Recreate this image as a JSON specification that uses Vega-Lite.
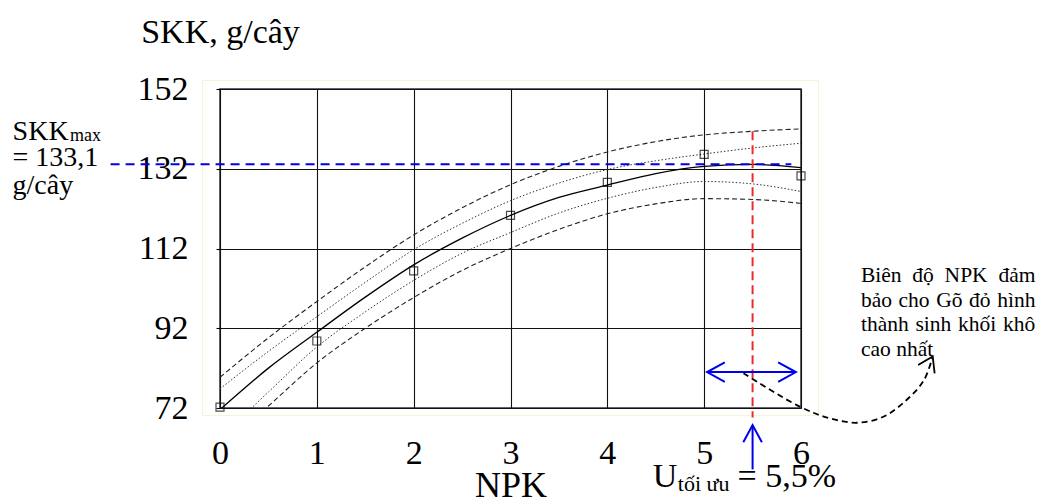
{
  "$schema": "https://vega.github.io/schema/vega-lite/v6.json",
  "width": 581,
  "height": 319,
  "autosize": {"type": "none"},
  "padding": {"left": 220, "top": 89, "right": 239, "bottom": 93},
  "background": "white",
  "config": {
    "font": "Liberation Serif, Times New Roman, serif",
    "text": {"font": "Liberation Serif, Times New Roman, serif"},
    "view": {"stroke": "#333333", "strokeWidth": 1.5},
    "axis": {
      "labelFont": "Liberation Serif, Times New Roman, serif",
      "titleFont": "Liberation Serif, Times New Roman, serif",
      "labelColor": "black",
      "titleColor": "black",
      "titleFontWeight": "normal",
      "grid": true,
      "gridColor": "#111111",
      "gridWidth": 1.1,
      "domain": false
    }
  },
  "datasets": {
    "fit": [
      {"x": 0, "y": 71.6, "band": "fit"}, {"x": 0.5, "y": 82.0, "band": "fit"}, {"x": 1, "y": 91.0, "band": "fit"},
      {"x": 1.5, "y": 99.8, "band": "fit"}, {"x": 2, "y": 107.9, "band": "fit"}, {"x": 2.5, "y": 114.6, "band": "fit"},
      {"x": 3, "y": 120.3, "band": "fit"}, {"x": 3.5, "y": 124.8, "band": "fit"}, {"x": 4, "y": 127.9, "band": "fit"},
      {"x": 4.5, "y": 130.8, "band": "fit"}, {"x": 5, "y": 132.6, "band": "fit"}, {"x": 5.5, "y": 133.1, "band": "fit"},
      {"x": 6, "y": 132.3, "band": "fit"},
      {"x": 0, "y": 76.8, "band": "ci_hi"}, {"x": 0.5, "y": 86.2, "band": "ci_hi"}, {"x": 1, "y": 94.9, "band": "ci_hi"},
      {"x": 1.5, "y": 103.5, "band": "ci_hi"}, {"x": 2, "y": 111.7, "band": "ci_hi"}, {"x": 2.5, "y": 118.3, "band": "ci_hi"},
      {"x": 3, "y": 124.0, "band": "ci_hi"}, {"x": 3.5, "y": 128.4, "band": "ci_hi"}, {"x": 4, "y": 131.8, "band": "ci_hi"},
      {"x": 4.5, "y": 134.0, "band": "ci_hi"}, {"x": 5, "y": 135.7, "band": "ci_hi"}, {"x": 5.5, "y": 137.2, "band": "ci_hi"},
      {"x": 6, "y": 138.4, "band": "ci_hi"},
      {"x": 0, "y": 64.5, "band": "ci_lo"}, {"x": 0.5, "y": 76.0, "band": "ci_lo"}, {"x": 1, "y": 87.3, "band": "ci_lo"},
      {"x": 1.5, "y": 96.1, "band": "ci_lo"}, {"x": 2, "y": 104.0, "band": "ci_lo"}, {"x": 2.5, "y": 110.8, "band": "ci_lo"},
      {"x": 3, "y": 116.0, "band": "ci_lo"}, {"x": 3.5, "y": 120.9, "band": "ci_lo"}, {"x": 4, "y": 124.6, "band": "ci_lo"},
      {"x": 4.5, "y": 127.3, "band": "ci_lo"}, {"x": 5, "y": 128.8, "band": "ci_lo"}, {"x": 5.5, "y": 128.2, "band": "ci_lo"},
      {"x": 6, "y": 126.3, "band": "ci_lo"},
      {"x": 0, "y": 79.7, "band": "pi_hi"}, {"x": 0.5, "y": 89.6, "band": "pi_hi"}, {"x": 1, "y": 98.7, "band": "pi_hi"},
      {"x": 1.5, "y": 107.4, "band": "pi_hi"}, {"x": 2, "y": 115.4, "band": "pi_hi"}, {"x": 2.5, "y": 122.2, "band": "pi_hi"},
      {"x": 3, "y": 128.0, "band": "pi_hi"}, {"x": 3.5, "y": 132.6, "band": "pi_hi"}, {"x": 4, "y": 136.2, "band": "pi_hi"},
      {"x": 4.5, "y": 138.8, "band": "pi_hi"}, {"x": 5, "y": 140.5, "band": "pi_hi"}, {"x": 5.5, "y": 141.4, "band": "pi_hi"},
      {"x": 6, "y": 142.0, "band": "pi_hi"},
      {"x": 0, "y": 61.8, "band": "pi_lo"}, {"x": 0.5, "y": 72.5, "band": "pi_lo"}, {"x": 1, "y": 83.3, "band": "pi_lo"},
      {"x": 1.5, "y": 92.0, "band": "pi_lo"}, {"x": 2, "y": 99.7, "band": "pi_lo"}, {"x": 2.5, "y": 106.5, "band": "pi_lo"},
      {"x": 3, "y": 112.0, "band": "pi_lo"}, {"x": 3.5, "y": 116.8, "band": "pi_lo"}, {"x": 4, "y": 120.7, "band": "pi_lo"},
      {"x": 4.5, "y": 123.2, "band": "pi_lo"}, {"x": 5, "y": 124.5, "band": "pi_lo"}, {"x": 5.5, "y": 124.3, "band": "pi_lo"},
      {"x": 6, "y": 123.3, "band": "pi_lo"}
    ],
    "obs": [
      {"x": 0, "y": 72.2}, {"x": 1, "y": 88.8}, {"x": 2, "y": 106.4}, {"x": 3, "y": 120.3},
      {"x": 4, "y": 128.6}, {"x": 5, "y": 135.6}, {"x": 6, "y": 130.2}
    ],
    "frame": [{"x": -0.18, "y": 70.1, "x2": 6.18, "y2": 154.15}],
    "skkMax": [{"x": -1.13, "y": 133.1}, {"x": 5.9, "y": 133.1}],
    "uOpt": [{"x": 5.5, "y": 141.4}, {"x": 5.5, "y": 69.6}],
    "arrows": [
      {"seg": "h", "k": 0, "x": 5.03, "y": 81.0}, {"seg": "h", "k": 1, "x": 5.947, "y": 81.0},
      {"seg": "hl", "k": 0, "x": 5.213, "y": 83.46}, {"seg": "hl", "k": 1, "x": 5.03, "y": 81.0}, {"seg": "hl", "k": 2, "x": 5.213, "y": 78.54},
      {"seg": "hr", "k": 0, "x": 5.764, "y": 83.46}, {"seg": "hr", "k": 1, "x": 5.947, "y": 81.0}, {"seg": "hr", "k": 2, "x": 5.764, "y": 78.54},
      {"seg": "v", "k": 0, "x": 5.5, "y": 56.6}, {"seg": "v", "k": 1, "x": 5.5, "y": 67.73},
      {"seg": "vh", "k": 0, "x": 5.404, "y": 63.4}, {"seg": "vh", "k": 1, "x": 5.5, "y": 67.73}, {"seg": "vh", "k": 2, "x": 5.596, "y": 63.4}
    ],
    "pointer": [
      {"k": 0, "x": 5.406, "y": 80.7}, {"k": 1, "x": 5.99, "y": 72.3}, {"k": 2, "x": 6.3, "y": 69.4},
      {"k": 3, "x": 6.58, "y": 68.3}, {"k": 4, "x": 6.85, "y": 69.8}, {"k": 5, "x": 7.09, "y": 74.0},
      {"k": 6, "x": 7.27, "y": 79.0}, {"k": 7, "x": 7.36, "y": 84.9}
    ],
    "pointerHead": [
      {"k": 0, "x": 7.21, "y": 82.8}, {"k": 1, "x": 7.36, "y": 84.9}, {"k": 2, "x": 7.38, "y": 80.7}
    ],
    "notes": [
      {"grp": "side", "x": -2.142, "y": 139.27, "text": "SKK"},
      {"grp": "sideSub", "x": -1.55, "y": 139.0, "text": "max"},
      {"grp": "side", "x": -2.142, "y": 132.6, "text": "= 133,1"},
      {"grp": "side", "x": -2.142, "y": 125.6, "text": "g/cây"},
      {"grp": "u", "x": 4.468, "y": 52.25, "text": "U"},
      {"grp": "uSub", "x": 4.728, "y": 51.2, "text": "tối ưu"},
      {"grp": "u", "x": 5.344, "y": 52.25, "text": "= 5,5%"},
      {"grp": "para", "x": 6.619, "y": 103.7, "text": "Biên"},
      {"grp": "para", "x": 7.15, "y": 103.7, "text": "độ"},
      {"grp": "para", "x": 7.483, "y": 103.7, "text": "NPK"},
      {"grp": "para", "x": 8.039, "y": 103.7, "text": "đảm"},
      {"grp": "para", "x": 6.619, "y": 97.3, "text": "bảo"},
      {"grp": "para", "x": 7.007, "y": 97.3, "text": "cho"},
      {"grp": "para", "x": 7.396, "y": 97.3, "text": "Gõ"},
      {"grp": "para", "x": 7.736, "y": 97.3, "text": "đỏ"},
      {"grp": "para", "x": 8.026, "y": 97.3, "text": "hình"},
      {"grp": "para", "x": 6.619, "y": 91.2, "text": "thành"},
      {"grp": "para", "x": 7.182, "y": 91.2, "text": "sinh"},
      {"grp": "para", "x": 7.621, "y": 91.2, "text": "khối"},
      {"grp": "para", "x": 8.085, "y": 91.2, "text": "khô"},
      {"grp": "para", "x": 6.619, "y": 85.0, "text": "cao  nhất"}
    ]
  },
  "encoding": {
    "x": {
      "field": "x",
      "type": "quantitative",
      "scale": {"domain": [0, 6], "nice": false, "zero": false},
      "axis": {
        "values": [0, 1, 2, 3, 4, 5, 6],
        "format": "d",
        "title": "NPK",
        "ticks": false,
        "labelFlush": false,
        "labelFontSize": 34,
        "labelPadding": 28,
        "titleFontSize": 36,
        "titleBaseline": "alphabetic",
        "titleY": 88
      }
    },
    "y": {
      "field": "y",
      "type": "quantitative",
      "scale": {"domain": [72, 152], "nice": false, "zero": false},
      "axis": {
        "values": [72, 92, 112, 132, 152],
        "format": "d",
        "title": "SKK, g/cây",
        "titleAngle": 0,
        "titleAlign": "center",
        "titleBaseline": "alphabetic",
        "titleX": 0,
        "titleY": -47,
        "titleFontSize": 34,
        "labelFontSize": 34,
        "labelPadding": 28,
        "tickSize": 4,
        "tickColor": "black",
        "tickWidth": 1.1
      }
    }
  },
  "layer": [
    {
      "data": {"name": "frame"},
      "mark": {"type": "rect", "fill": null, "fillOpacity": 0, "stroke": "#f4f4d4", "strokeWidth": 1, "clip": false},
      "encoding": {"x2": {"field": "x2"}, "y2": {"field": "y2"}}
    },
    {
      "data": {"name": "fit"},
      "transform": [{"filter": "datum.band === 'pi_hi' || datum.band === 'pi_lo'"}],
      "mark": {"type": "line", "clip": true, "color": "#222222", "strokeWidth": 1.1, "strokeDash": [5, 3], "interpolate": "monotone"},
      "encoding": {"detail": {"field": "band"}}
    },
    {
      "data": {"name": "fit"},
      "transform": [{"filter": "datum.band === 'ci_hi' || datum.band === 'ci_lo'"}],
      "mark": {"type": "line", "clip": true, "color": "#333333", "strokeWidth": 1, "strokeDash": [1.5, 2], "interpolate": "monotone"},
      "encoding": {"detail": {"field": "band"}}
    },
    {
      "data": {"name": "fit"},
      "transform": [{"filter": "datum.band === 'fit'"}],
      "mark": {"type": "line", "clip": true, "color": "black", "strokeWidth": 1.3, "interpolate": "monotone"},
      "encoding": {}
    },
    {
      "data": {"name": "skkMax"},
      "mark": {"type": "line", "clip": false, "color": "#0000ee", "strokeWidth": 2, "strokeDash": [9, 6]},
      "encoding": {}
    },
    {
      "data": {"name": "uOpt"},
      "mark": {"type": "line", "clip": false, "color": "#ee2a2a", "strokeWidth": 2, "strokeDash": [9, 5]},
      "encoding": {"order": {"field": "y", "sort": "descending"}}
    },
    {
      "data": {"name": "obs"},
      "mark": {"type": "point", "shape": "square", "filled": false, "color": "black", "size": 64, "strokeWidth": 1.2, "clip": false},
      "encoding": {}
    },
    {
      "data": {"name": "arrows"},
      "mark": {"type": "line", "clip": false, "color": "#0000ee", "strokeWidth": 2},
      "encoding": {"detail": {"field": "seg"}, "order": {"field": "k"}}
    },
    {
      "data": {"name": "pointer"},
      "mark": {"type": "line", "clip": false, "color": "black", "strokeWidth": 1.8, "strokeDash": [6, 4], "interpolate": "catmull-rom"},
      "encoding": {"order": {"field": "k"}}
    },
    {
      "data": {"name": "pointerHead"},
      "mark": {"type": "line", "clip": false, "color": "black", "strokeWidth": 1.8},
      "encoding": {"order": {"field": "k"}}
    },
    {
      "data": {"name": "notes"},
      "transform": [{"filter": "datum.grp === 'side'"}],
      "mark": {"type": "text", "align": "left", "baseline": "alphabetic", "fontSize": 28, "color": "black", "font": "Liberation Serif, Times New Roman, serif"},
      "encoding": {"text": {"field": "text"}}
    },
    {
      "data": {"name": "notes"},
      "transform": [{"filter": "datum.grp === 'sideSub'"}],
      "mark": {"type": "text", "align": "left", "baseline": "alphabetic", "fontSize": 18, "color": "black", "font": "Liberation Serif, Times New Roman, serif"},
      "encoding": {"text": {"field": "text"}}
    },
    {
      "data": {"name": "notes"},
      "transform": [{"filter": "datum.grp === 'u'"}],
      "mark": {"type": "text", "align": "left", "baseline": "alphabetic", "fontSize": 34, "color": "black", "font": "Liberation Serif, Times New Roman, serif"},
      "encoding": {"text": {"field": "text"}}
    },
    {
      "data": {"name": "notes"},
      "transform": [{"filter": "datum.grp === 'uSub'"}],
      "mark": {"type": "text", "align": "left", "baseline": "alphabetic", "fontSize": 22, "color": "black", "font": "Liberation Serif, Times New Roman, serif"},
      "encoding": {"text": {"field": "text"}}
    },
    {
      "data": {"name": "notes"},
      "transform": [{"filter": "datum.grp === 'para'"}],
      "mark": {"type": "text", "align": "left", "baseline": "alphabetic", "fontSize": 21.5, "color": "black", "font": "Liberation Serif, Times New Roman, serif"},
      "encoding": {"text": {"field": "text"}}
    }
  ]
}
